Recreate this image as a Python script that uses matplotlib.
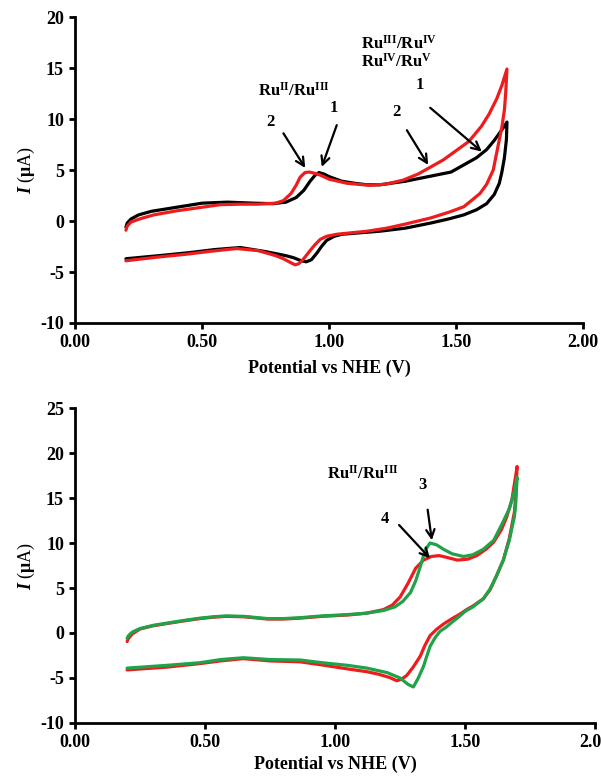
import matplotlib
matplotlib.use("Agg")
import matplotlib.pyplot as plt

plt.rcParams['font.family'] = ['Liberation Serif', 'DejaVu Serif']
plt.rcParams['font.weight'] = 'bold'
plt.rcParams['axes.unicode_minus'] = False
plt.rcParams['mathtext.fontset'] = 'custom'
plt.rcParams['mathtext.rm'] = 'Liberation Serif:bold'
plt.rcParams['mathtext.it'] = 'Liberation Serif:italic:bold'
plt.rcParams['mathtext.bf'] = 'Liberation Serif:bold'

# ---- top panel: curve 1 (black) and curve 2 (red) ----
c1_fwd_v = [0.200, 0.205, 0.22, 0.25, 0.30, 0.40, 0.50, 0.60, 0.70, 0.78, 0.83, 0.87, 0.90, 0.925,
            0.945, 0.96, 0.98, 1.00, 1.05, 1.10, 1.15, 1.20, 1.30, 1.40, 1.48, 1.53, 1.58, 1.62,
            1.65, 1.67, 1.69, 1.70]
c1_fwd_i = [-0.6, -0.2, 0.2, 0.6, 0.95, 1.35, 1.75, 1.85, 1.75, 1.7, 1.85, 2.3, 3.0, 3.9,
            4.5, 4.75, 4.6, 4.35, 3.9, 3.7, 3.55, 3.55, 3.9, 4.4, 4.8, 5.5, 6.2, 7.0,
            7.9, 8.6, 9.3, 9.7]
c1_rev_v = [1.70, 1.698, 1.69, 1.68, 1.67, 1.65, 1.62, 1.58, 1.53, 1.47, 1.40, 1.30, 1.20, 1.10,
            1.05, 1.02, 0.99, 0.97, 0.95, 0.93, 0.91, 0.89, 0.86, 0.83, 0.75, 0.65, 0.55, 0.45,
            0.35, 0.20]
c1_rev_i = [9.7, 8.0, 6.2, 4.8, 3.7, 2.6, 1.7, 1.1, 0.6, 0.2, -0.2, -0.7, -1.0, -1.2,
            -1.3, -1.5, -1.9, -2.5, -3.2, -3.8, -4.0, -3.9, -3.6, -3.4, -3.0, -2.6, -2.8, -3.1,
            -3.35, -3.7]

c2_fwd_v = [0.200, 0.205, 0.22, 0.26, 0.31, 0.40, 0.50, 0.57, 0.65, 0.72, 0.79, 0.82, 0.85, 0.87,
            0.886, 0.905, 0.92, 0.94, 0.965, 1.00, 1.07, 1.16, 1.22, 1.29, 1.35, 1.40, 1.45, 1.50,
            1.55, 1.60, 1.63, 1.66, 1.68, 1.70]
c2_fwd_i = [-0.9, -0.5, -0.1, 0.25, 0.6, 1.0, 1.35, 1.6, 1.65, 1.65, 1.75, 2.0, 2.7, 3.5,
            4.3, 4.75, 4.8, 4.7, 4.5, 4.1, 3.7, 3.5, 3.6, 4.0, 4.6, 5.3, 6.0, 6.9,
            7.8, 9.3, 10.5, 12.0, 13.3, 14.9]
c2_rev_v = [1.70, 1.695, 1.69, 1.68, 1.667, 1.646, 1.62, 1.594, 1.56, 1.53, 1.476, 1.40, 1.30,
            1.227, 1.15, 1.07, 1.03, 0.99, 0.965, 0.945, 0.925, 0.90, 0.88, 0.866, 0.85, 0.82,
            0.79, 0.72, 0.636, 0.54, 0.44, 0.32, 0.20]
c2_rev_i = [14.9, 12.5, 10.9, 9.2, 7.6, 5.0, 3.6, 2.7, 2.0, 1.4, 0.9, 0.3, -0.3,
            -0.7, -1.0, -1.2, -1.3, -1.5, -1.8, -2.3, -2.9, -3.7, -4.2, -4.3, -4.1, -3.7,
            -3.4, -2.9, -2.7, -2.95, -3.25, -3.55, -3.9]

# ---- bottom panel: curve 4 (red) and curve 3 (green) ----
c4_fwd_v = [0.200, 0.205, 0.22, 0.25, 0.30, 0.353, 0.42, 0.48, 0.53, 0.58, 0.65, 0.74, 0.80, 0.865,
            0.95, 1.05, 1.12, 1.186, 1.22, 1.25, 1.28, 1.31, 1.34, 1.37, 1.40, 1.43, 1.47, 1.51,
            1.545, 1.58, 1.61, 1.64, 1.66, 1.68, 1.70]
c4_fwd_i = [-0.95, -0.6, -0.1, 0.45, 0.8, 1.05, 1.35, 1.6, 1.75, 1.85, 1.8, 1.55, 1.55, 1.65,
            1.85, 2.0, 2.2, 2.6, 3.1, 4.0, 5.5, 7.2, 8.1, 8.5, 8.6, 8.4, 8.1, 8.2,
            8.6, 9.3, 10.1, 11.5, 12.9, 14.8, 18.5]
c4_rev_v = [1.70, 1.695, 1.69, 1.67, 1.647, 1.62, 1.596, 1.57, 1.53, 1.506, 1.48, 1.45, 1.417,
            1.39, 1.365, 1.345, 1.327, 1.30, 1.276, 1.255, 1.237, 1.21, 1.17, 1.122, 1.05, 0.95,
            0.865, 0.75, 0.647, 0.56, 0.48, 0.35, 0.20]
c4_rev_i = [18.5, 15.5, 13.5, 10.5, 8.1, 6.3, 4.8, 3.8, 3.0, 2.6, 2.1, 1.6, 1.0,
            0.4, -0.3, -1.4, -2.6, -3.8, -4.7, -5.15, -5.3, -4.95, -4.6, -4.3, -4.0, -3.55,
            -3.2, -3.1, -2.85, -3.1, -3.4, -3.8, -4.1]

c3_fwd_v = [0.200, 0.205, 0.22, 0.25, 0.30, 0.353, 0.42, 0.48, 0.53, 0.58, 0.65, 0.74, 0.80, 0.865,
            0.95, 1.05, 1.12, 1.186, 1.23, 1.26, 1.29, 1.31, 1.33, 1.346, 1.365, 1.39, 1.417, 1.45,
            1.494, 1.53, 1.57, 1.61, 1.64, 1.67, 1.69, 1.70]
c3_fwd_i = [-0.6, -0.3, 0.1, 0.5, 0.85, 1.1, 1.4, 1.65, 1.8, 1.9, 1.85, 1.6, 1.6, 1.7,
            1.9, 2.05, 2.2, 2.5, 2.9, 3.5, 4.5, 5.8, 7.6, 9.2, 10.0, 9.8, 9.3, 8.8,
            8.5, 8.7, 9.3, 10.3, 12.0, 13.8, 15.8, 17.3]
c3_rev_v = [1.70, 1.695, 1.69, 1.67, 1.647, 1.62, 1.596, 1.57, 1.53, 1.50, 1.48, 1.45, 1.425,
            1.404, 1.385, 1.365, 1.35, 1.34, 1.32, 1.301, 1.28, 1.25, 1.20, 1.122, 1.05, 0.95,
            0.865, 0.75, 0.647, 0.56, 0.48, 0.35, 0.20]
c3_rev_i = [17.3, 14.5, 13.0, 10.3, 8.1, 6.3, 4.9, 3.8, 2.9, 2.4, 1.9, 1.2, 0.6,
            0.2, -0.5, -1.5, -2.8, -3.7, -5.0, -6.0, -5.7, -5.0, -4.4, -3.9, -3.6, -3.3,
            -3.0, -2.95, -2.75, -2.95, -3.3, -3.6, -3.9]

x_ticks = [0.0, 0.5, 1.0, 1.5, 2.0]
top_y_ticks = [-10, -5, 0, 5, 10, 15, 20]
bot_y_ticks = [-10, -5, 0, 5, 10, 15, 20, 25]

RED = '#ee1c1c'
GREEN = '#1fa34a'
LW = 2.3
FS = 13


def style_axes(ax, yticks, xpad):
    for s in ['top', 'right']:
        ax.spines[s].set_visible(False)
    for s in ['left', 'bottom']:
        ax.spines[s].set_linewidth(2.0)
    ax.set_xlim(0, 2.0)
    ax.set_ylim(yticks[0], yticks[-1])
    ax.set_xticks(x_ticks)
    ax.set_xticklabels([f"{t:.2f}" for t in x_ticks])
    ax.set_yticks(yticks)
    ax.set_yticklabels([str(t) for t in yticks])
    ax.tick_params(direction='out', length=4, width=2, labelsize=FS, pad=4)
    ax.set_xlabel("Potential vs NHE (V)", fontsize=FS, fontweight='bold', labelpad=xpad)
    ax.set_ylabel(r"$I$ ($\mathrm{\mu}$A)", fontsize=FS, labelpad=2)


def arrow(ax, tail, head):
    ax.annotate('', xy=head, xytext=tail,
                arrowprops=dict(arrowstyle='->', lw=1.6, color='k', mutation_scale=15,
                                shrinkA=0, shrinkB=0))


fig = plt.figure(figsize=(6.01, 7.77), dpi=100)

# top panel
ax1 = fig.add_axes([0.125, 0.5843, 0.8453, 0.3938])
ax1.plot(c1_fwd_v + c1_rev_v, c1_fwd_i + c1_rev_i, color='k', lw=LW, solid_capstyle='round')
ax1.plot(c2_fwd_v + c2_rev_v, c2_fwd_i + c2_rev_i, color=RED, lw=LW, solid_capstyle='round')
style_axes(ax1, top_y_ticks, 6)

tfs = 12
ax1.text(0.86, 12.8, r"Ru$^{\mathrm{II}}$/Ru$^{\mathrm{III}}$", fontsize=tfs, ha='center', va='center')
ax1.text(0.77, 9.7, "2", fontsize=tfs, ha='center', va='center')
arrow(ax1, (0.82, 8.6), (0.906, 5.2))
ax1.text(1.017, 11.1, "1", fontsize=tfs, ha='center', va='center')
arrow(ax1, (1.03, 9.4), (0.971, 5.3))
ax1.text(1.125, 17.4, r"Ru$^{\mathrm{III}}$/Ru$^{\mathrm{IV}}$", fontsize=tfs, ha='left', va='center')
ax1.text(1.125, 15.6, r"Ru$^{\mathrm{IV}}$/Ru$^{\mathrm{V}}$", fontsize=tfs, ha='left', va='center')
ax1.text(1.266, 10.7, "2", fontsize=tfs, ha='center', va='center')
arrow(ax1, (1.306, 8.9), (1.39, 5.5))
ax1.text(1.358, 13.3, "1", fontsize=tfs, ha='center', va='center')
arrow(ax1, (1.398, 11.1), (1.601, 6.8))

# bottom panel
ax2 = fig.add_axes([0.125, 0.0695, 0.8652, 0.4054])
ax2.plot(c4_fwd_v + c4_rev_v, c4_fwd_i + c4_rev_i, color=RED, lw=LW, solid_capstyle='round')
ax2.plot(c3_fwd_v + c3_rev_v, c3_fwd_i + c3_rev_i, color=GREEN, lw=LW, solid_capstyle='round')
style_axes(ax2, bot_y_ticks, 3)

ax2.text(1.109, 17.7, r"Ru$^{\mathrm{II}}$/Ru$^{\mathrm{III}}$", fontsize=tfs, ha='center', va='center')
ax2.text(1.337, 16.4, "3", fontsize=tfs, ha='center', va='center')
arrow(ax2, (1.356, 13.7), (1.372, 10.3))
ax2.text(1.19, 12.7, "4", fontsize=tfs, ha='center', va='center')
arrow(ax2, (1.246, 12.0), (1.365, 8.3))

fig.savefig("out.png", dpi=100)
